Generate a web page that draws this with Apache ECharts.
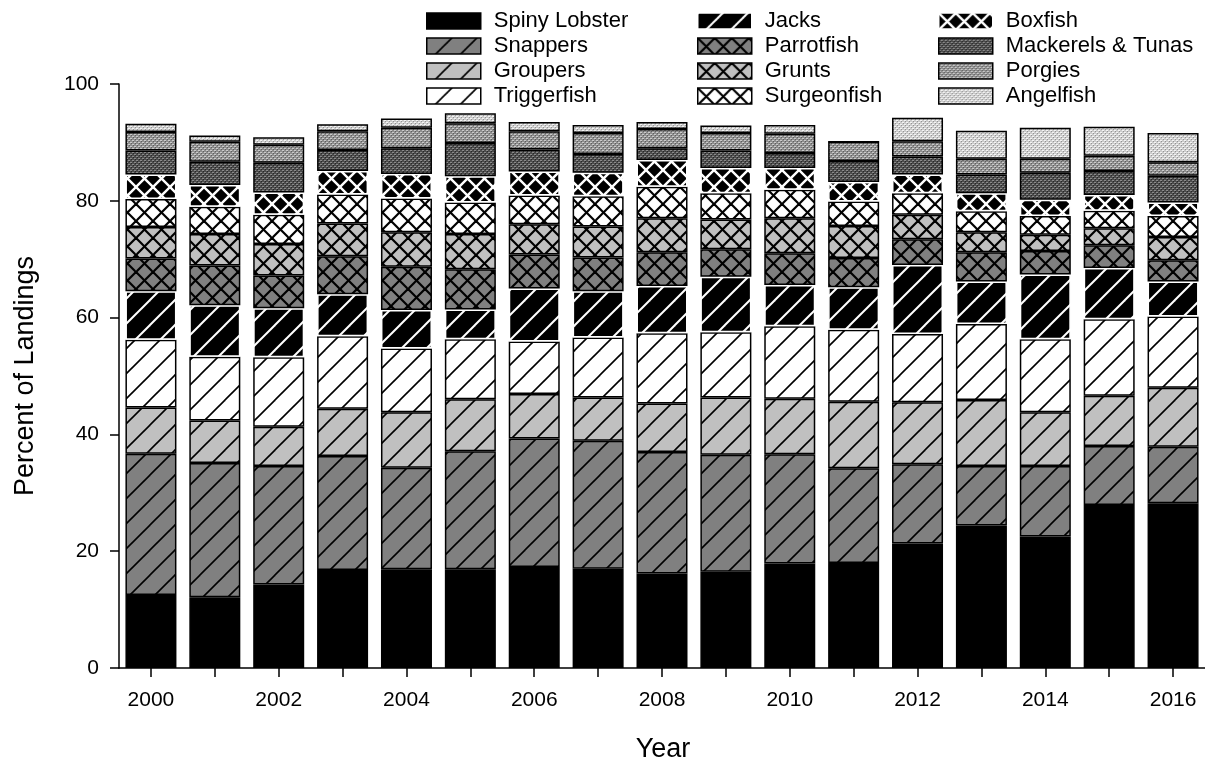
<!DOCTYPE html>
<html>
<head>
<meta charset="utf-8">
<script src="https://cdn.jsdelivr.net/npm/echarts@6/dist/echarts.min.js"></script>
<style>
html,body{margin:0;padding:0;background:#fff;}
#chart{width:1205px;height:767px;}
</style>
</head>
<body>
<div id="chart"></div>
<script>
const years = ['2000','2001','2002','2003','2004','2005','2006','2007','2008','2009','2010','2011','2012','2013','2014','2015','2016'];
const spinyLobster   = [12.5,12.1,14.3,16.8,16.9,16.9,17.3,17.0,16.2,16.5,17.9,18.0,21.3,24.4,22.5,27.9,28.2];
const snappers       = [24.2,23.0,20.3,19.5,17.4,20.2,22.0,21.9,20.8,20.0,18.7,16.2,13.6,10.2,12.1,10.1,9.7];
const groupers       = [7.9,7.3,6.7,8.1,9.5,8.9,7.6,7.4,8.3,9.8,9.5,11.4,10.6,11.3,9.2,8.6,10.1];
const triggerfish    = [11.6,10.9,11.9,12.4,10.9,10.3,9.0,10.3,12.0,11.2,12.4,12.3,11.7,13.0,12.5,13.1,12.2];
const jacks          = [8.3,8.8,8.4,7.2,6.6,5.1,9.1,7.9,8.1,9.5,7.1,7.3,11.8,7.3,11.1,8.8,6.0];
const parrotfish     = [5.6,6.8,5.6,6.5,7.4,6.9,5.8,5.8,5.8,4.7,5.4,5.0,4.4,5.0,4.0,3.9,3.6];
const grunts         = [5.4,5.4,5.4,5.6,5.9,6.0,5.2,5.3,5.8,5.1,6.0,5.5,4.2,3.4,2.8,2.9,4.0];
const surgeonfish    = [4.8,4.7,5.0,5.0,5.8,5.4,4.9,5.2,5.4,4.5,4.9,4.2,3.7,3.6,3.2,3.0,3.6];
const boxfish        = [4.2,3.7,3.8,4.0,4.2,4.5,4.1,4.0,4.6,4.3,3.7,3.3,3.2,3.1,2.8,2.7,2.3];
const mackerelsTunas = [4.1,4.0,5.1,3.6,4.4,5.7,3.8,3.2,2.0,3.0,2.6,3.6,3.1,3.2,4.6,4.1,4.6];
const porgies        = [3.2,3.4,3.1,3.2,3.5,3.4,3.1,3.6,3.3,3.0,3.3,3.3,2.6,2.7,2.4,2.6,2.3];
const angelfish      = [1.4,1.1,1.3,1.2,1.6,1.7,1.6,1.4,1.2,1.3,1.5,0,4.0,4.8,5.3,5.0,5.0];
const yTicks = [0,20,40,60,80,100];

const FONT = '"Liberation Sans", Arial, Helvetica, sans-serif';

function linePattern(bg, fg, size, lw, cross) {
  const c = document.createElement('canvas');
  c.width = size; c.height = size;
  const g = c.getContext('2d');
  g.fillStyle = bg; g.fillRect(0, 0, size, size);
  g.strokeStyle = fg; g.lineWidth = lw; g.lineCap = 'square';
  const seg = (x1, y1, x2, y2) => { g.beginPath(); g.moveTo(x1, y1); g.lineTo(x2, y2); g.stroke(); };
  seg(-size, size * 2, size * 2, -size);
  seg(-size, size, size, -size);
  seg(0, size * 2, size * 2, 0);
  if (cross) {
    seg(-size, -size, size * 2, size * 2);
    seg(-size, 0, size, size * 2);
    seg(0, -size, size * 2, size);
  }
  return { image: c, repeat: 'repeat' };
}
function dotPattern(bg, dot, dark) {
  const c = document.createElement('canvas');
  c.width = 4; c.height = 4;
  const g = c.getContext('2d');
  g.fillStyle = bg; g.fillRect(0, 0, 4, 4);
  g.fillStyle = dot;
  g.fillRect(0, 0, 1, 1); g.fillRect(2, 2, 1, 1); g.fillRect(1, 0, 1, 1); g.fillRect(3, 2, 1, 1);
  g.fillStyle = dark;
  g.fillRect(1, 1, 1, 1); g.fillRect(3, 3, 1, 1);
  return { image: c, repeat: 'repeat' };
}

const seriesDefs = [
  { name: 'Spiny Lobster', data: spinyLobster, color: '#000000', border: '#000' },
  { name: 'Snappers', data: snappers, color: linePattern('#808080', '#000', 25, 1.6, false), border: '#000' },
  { name: 'Groupers', data: groupers, color: linePattern('#c0c0c0', '#000', 25, 1.6, false), border: '#000' },
  { name: 'Triggerfish', data: triggerfish, color: linePattern('#ffffff', '#000', 25, 1.6, false), border: '#000' },
  { name: 'Jacks', data: jacks, color: linePattern('#000000', '#fff', 25, 2, false), border: '#fff' },
  { name: 'Parrotfish', data: parrotfish, color: linePattern('#808080', '#000', 17, 2.2, true), border: '#000' },
  { name: 'Grunts', data: grunts, color: linePattern('#c0c0c0', '#000', 17, 2.2, true), border: '#000' },
  { name: 'Surgeonfish', data: surgeonfish, color: linePattern('#ffffff', '#000', 17, 2.2, true), border: '#000' },
  { name: 'Boxfish', data: boxfish, color: linePattern('#000000', '#fff', 17, 2.4, true), border: '#fff' },
  { name: 'Mackerels & Tunas', data: mackerelsTunas, color: dotPattern('#4c4c4c', '#8a8a8a', '#262626'), border: '#000' },
  { name: 'Porgies', data: porgies, color: dotPattern('#8e8e8e', '#cacaca', '#5e5e5e'), border: '#000' },
  { name: 'Angelfish', data: angelfish, color: dotPattern('#cccccc', '#f4f4f4', '#949494'), border: '#000' }
];

const series = seriesDefs.map(d => ({
  name: d.name,
  type: 'bar',
  stack: 'total',
  barWidth: 51,
  data: d.data,
  itemStyle: { color: d.color, borderColor: d.border, borderWidth: 1.5 },
  emphasis: { disabled: true },
  animation: false
}));

const legendBase = {
  orient: 'vertical',
  icon: 'rect',
  itemWidth: 54,
  itemHeight: 16,
  itemGap: 3,
  padding: 0,
  selectedMode: false,
  itemStyle: { borderWidth: 'inherit', borderColor: 'inherit' },
  textStyle: { fontFamily: FONT, fontSize: 22, color: '#000', padding: [0, 0, 0, 8] }
};
const names = seriesDefs.map(d => d.name);

const chart = echarts.init(document.getElementById('chart'), null, { renderer: 'canvas' });
chart.setOption({
  backgroundColor: '#ffffff',
  animation: false,
  grid: { left: 119, top: 84, width: 1088, height: 584, containLabel: false },
  legend: [
    Object.assign({}, legendBase, { left: 426, top: 10, data: names.slice(0, 4) }),
    Object.assign({}, legendBase, { left: 697, top: 10, data: names.slice(4, 8) }),
    Object.assign({}, legendBase, { left: 938, top: 10, data: names.slice(8, 12) })
  ],
  xAxis: {
    type: 'category',
    data: years,
    boundaryGap: true,
    axisLine: { show: true, lineStyle: { color: '#000', width: 1.5 } },
    axisTick: { show: true, alignWithLabel: true, interval: 0, length: 9, lineStyle: { color: '#000', width: 1.5 } },
    axisLabel: { interval: 1, margin: 22, fontFamily: FONT, fontSize: 21, color: '#000' },
    splitLine: { show: false }
  },
  yAxis: {
    type: 'value',
    min: 0, max: 100, interval: 20,
    axisLine: { show: true, lineStyle: { color: '#000', width: 1.5 } },
    axisTick: { show: true, length: 9, lineStyle: { color: '#000', width: 1.5 } },
    axisLabel: {
      margin: 20, fontFamily: FONT, fontSize: 21, color: '#000',
      formatter: v => (yTicks.indexOf(v) >= 0 ? String(v) : '')
    },
    splitLine: { show: false }
  },
  graphic: [
    { type: 'text', x: 26, y: 376, rotation: Math.PI / 2,
      style: { text: 'Percent of Landings', fontFamily: FONT, fontSize: 27, fill: '#000', textAlign: 'center', textVerticalAlign: 'middle' } },
    { type: 'text', x: 663, y: 750,
      style: { text: 'Year', fontFamily: FONT, fontSize: 27, fill: '#000', textAlign: 'center', textVerticalAlign: 'middle' } }
  ],
  series: series
});
</script>
</body>
</html>
